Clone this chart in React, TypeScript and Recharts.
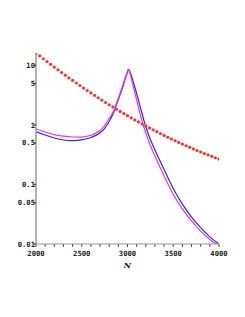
import { LineChart, Line, XAxis, YAxis } from 'recharts';

// N sample points for the two resonance curves
const nValues = [2000, 2100, 2200, 2300, 2400, 2500, 2600, 2700, 2750, 2800, 2850, 2900, 2950, 2975, 2990, 3000, 3010, 3025, 3040, 3050, 3075, 3100, 3125, 3150, 3175, 3200, 3225, 3250, 3300, 3400, 3500, 3600, 3700, 3800, 3900, 4000];
const magentaValues = [0.857, 0.763, 0.69, 0.648, 0.628, 0.626, 0.671, 0.808, 0.981, 1.286, 1.753, 2.843, 4.7, 6.24, 7.19, 7.93, 8.73, 7.63, 6.28, 5.38, 3.8, 2.65, 1.857, 1.311, 0.962, 0.734, 0.571, 0.452, 0.301, 0.139, 0.0679, 0.0388, 0.0244, 0.0165, 0.0119, 0.0093];
const blueValues = [0.778, 0.679, 0.605, 0.56, 0.547, 0.564, 0.617, 0.739, 0.88, 1.145, 1.635, 2.683, 4.44, 5.93, 6.93, 7.78, 8.63, 7.93, 6.92, 6.17, 4.61, 3.38, 2.44, 1.753, 1.261, 0.944, 0.72, 0.571, 0.38, 0.1787, 0.0857, 0.0467, 0.0284, 0.0188, 0.01316, 0.01];

// dotted red curve, one point every 40
const redN = [2000, 2040, 2080, 2120, 2160, 2200, 2240, 2280, 2320, 2360, 2400, 2440, 2480, 2520, 2560, 2600, 2640, 2680, 2720, 2760, 2800, 2840, 2880, 2920, 2960, 3000, 3040, 3080, 3120, 3160, 3200, 3240, 3280, 3320, 3360, 3400, 3440, 3480, 3520, 3560, 3600, 3640, 3680, 3720, 3760, 3800, 3840, 3880, 3920, 3960, 4000];
const redValues = [16.22, 14.51, 12.99, 11.65, 10.46, 9.4, 8.46, 7.62, 6.88, 6.21, 5.61, 5.08, 4.61, 4.18, 3.8, 3.46, 3.15, 2.87, 2.62, 2.39, 2.19, 2.01, 1.84, 1.69, 1.555, 1.432, 1.319, 1.217, 1.125, 1.04, 0.964, 0.893, 0.829, 0.771, 0.717, 0.668, 0.623, 0.582, 0.544, 0.51, 0.478, 0.448, 0.421, 0.396, 0.373, 0.352, 0.332, 0.314, 0.297, 0.281, 0.267];

const xTicks = [2000, 2100, 2200, 2300, 2400, 2500, 2600, 2700, 2800, 2900, 3000, 3100, 3200, 3300, 3400, 3500, 3600, 3700, 3800, 3900, 4000];
const yTicks = [0.01, 0.05, 0.1, 0.5, 1, 5, 10];

const magentaData = nValues.map((n, i) => ({ n, v: magentaValues[i] }));
const blueData = nValues.map((n, i) => ({ n, v: blueValues[i] }));
const redData = redN.map((n, i) => ({ n, v: redValues[i] }));

const tickFont = { fontSize: 7.2, fontFamily: 'DejaVu Sans Mono', fontWeight: 'bold', fill: '#222' };

const RedDot = (props: any) => {
    const { cx, cy, index } = props;
    if (cx == null || cy == null) return null;
    return <circle key={`rd-${index}`} cx={cx} cy={cy} r={1.6} fill="#ff3030" />;
};

export default function App() {
    return (
        <div style={{ position: 'absolute', left: 0, top: 0, background: '#fff' }}>
            <LineChart width={245} height={317} margin={{ top: 53, right: 26, left: 0, bottom: 43 }}>
                <XAxis
                    type="number"
                    dataKey="n"
                    domain={[2000, 4000]}
                    ticks={xTicks}
                    interval={0}
                    tickFormatter={(v: number) => (v % 500 === 0 ? String(v) : '')}
                    tick={tickFont}
                    tickSize={3}
                    tickMargin={4}
                    height={30}
                    stroke="#999"
                    tickLine={{ stroke: '#555' }}
                    allowDataOverflow
                    label={{ value: 'N', position: 'insideBottom', offset: 6, style: { fontSize: 8, fontStyle: 'italic', fontWeight: 'bold', fontFamily: 'DejaVu Serif', fill: '#222' } }}
                />
                <YAxis
                    type="number"
                    scale="log"
                    dataKey="v"
                    domain={[0.01, 16.22]}
                    ticks={yTicks}
                    interval={0}
                    width={36}
                    tick={tickFont}
                    tickSize={2}
                    tickMargin={-1}
                    stroke="#999"
                    strokeWidth={1.5}
                    tickLine={{ stroke: '#555' }}
                    allowDataOverflow
                />
                <Line data={blueData} dataKey="v" type="monotone" stroke="#2828ff" strokeWidth={1.2} dot={false} isAnimationActive={false} />
                <Line data={magentaData} dataKey="v" type="monotone" stroke="#f030f0" strokeWidth={1.2} dot={false} isAnimationActive={false} />
                <Line data={redData} dataKey="v" stroke="none" dot={<RedDot />} isAnimationActive={false} />
            </LineChart>
        </div>
    );
}
